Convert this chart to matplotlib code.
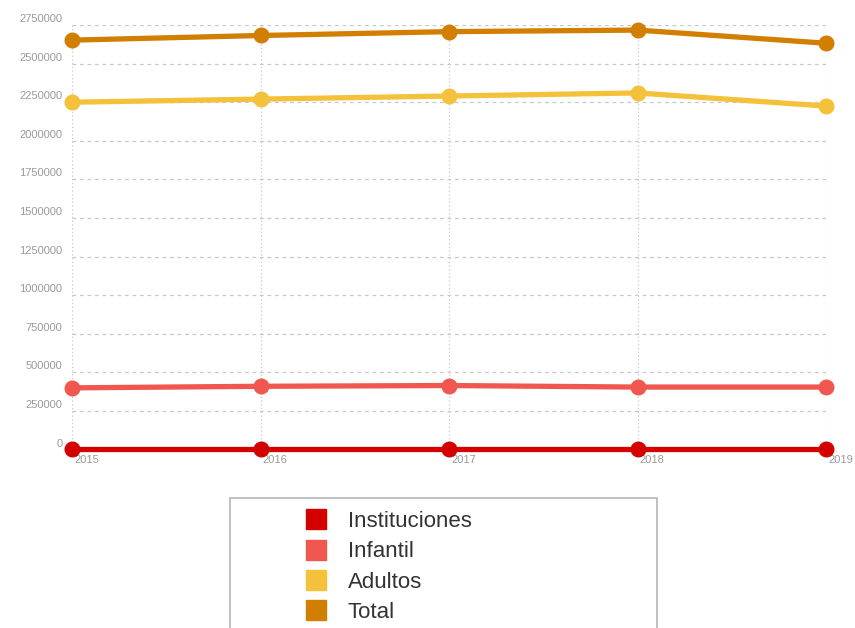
import matplotlib.pyplot as plt
import matplotlib.transforms as mtransforms
from matplotlib.patches import Rectangle
from matplotlib.lines import Line2D

plt.rcParams['font.family'] = ['Liberation Sans', 'DejaVu Sans']

years = [2015, 2016, 2017, 2018, 2019]
instituciones = [2000, 2000, 2000, 2000, 2000]
infantil = [400000, 410000, 415000, 405000, 405000]
adultos = [2250000, 2270000, 2290000, 2310000, 2225000]
total = [i + a + b for i, a, b in zip(instituciones, infantil, adultos)]

series_names = ['Instituciones', 'Infantil', 'Adultos', 'Total']
series_vals = [instituciones, infantil, adultos, total]
colors = ['#d40000', '#f0584f', '#f3c13a', '#d27e00']

yticks = list(range(0, 2750001, 250000))

fig = plt.figure(figsize=(8.55, 6.28), dpi=100)
ax = fig.add_axes([72/855, 1-449.6/628, (826-72)/855, (449.6-25)/628])

# grid
for y in yticks:
    ax.axhline(y, color='#c5c8cc', lw=0.9, ls=(0, (3, 3)), zorder=1)
for x in years:
    ax.axvline(x, color='#c5c8cc', lw=0.9, ls=(0, (1, 2)), zorder=1)

for name, vals, c in zip(series_names, series_vals, colors):
    ax.plot(years, vals, color=c, lw=3.8, marker='o', ms=10.5,
            solid_capstyle='round', clip_on=False, zorder=3, label=name)

ax.set_xlim(2015, 2019)
ax.set_ylim(0, 2750000)
for s in ax.spines.values():
    s.set_visible(False)
ax.tick_params(length=0)

ax.set_yticks(yticks)
ax.set_yticklabels([str(v) for v in yticks], color='#9a9a9a', fontsize=8)
ax.tick_params(axis='y', pad=7)
off_y = mtransforms.ScaledTranslation(0, 7/100, fig.dpi_scale_trans)
for lab in ax.get_yticklabels():
    lab.set_transform(lab.get_transform() + off_y)

ax.set_xticks(years)
ax.set_xticklabels([str(y) for y in years], color='#9a9a9a', fontsize=8, ha='left')
ax.tick_params(axis='x', pad=4)
off_x = mtransforms.ScaledTranslation(2/100, 0, fig.dpi_scale_trans)
for lab in ax.get_xticklabels():
    lab.set_transform(lab.get_transform() + off_x)

# legend box
fig.patches.append(Rectangle((230/855, -0.05), (657-230)/855, 0.05 + 1-498/628,
                             transform=fig.transFigure, fill=False,
                             edgecolor='#b5b5b5', lw=1.2))
handles = [Line2D([], [], ls='none', marker='s', ms=14, color=c, mec=c) for c in colors]
fig.legend(handles, series_names, loc='upper left',
           bbox_to_anchor=(283/855, 1-491/628), frameon=False,
           fontsize=16, labelcolor='#333333', handletextpad=0.82,
           labelspacing=0.42, handlelength=1.2)

fig.savefig('out.png', dpi=100)
